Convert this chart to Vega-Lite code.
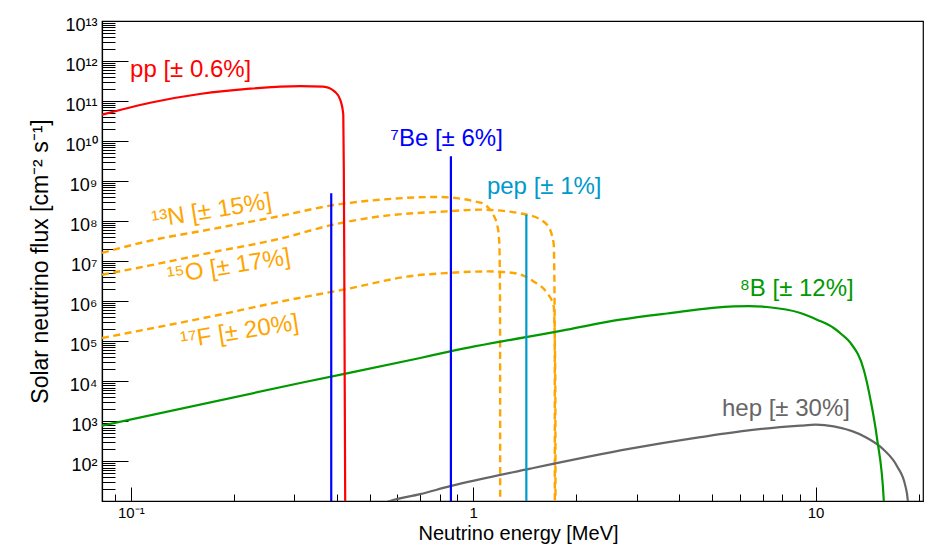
{
  "$schema": "https://vega.github.io/schema/vega-lite/v6.json",
  "description": "Solar neutrino energy spectrum (pp chain and CNO cycle) with flux uncertainties.",
  "width": 821,
  "height": 480,
  "autosize": {"type": "none"},
  "padding": {"left": 102, "top": 21, "right": 5, "bottom": 48},
  "config": {
    "font": "Liberation Sans",
    "view": {"stroke": "#000000", "strokeWidth": 1.2},
    "axis": {
      "grid": false,
      "domainColor": "#000000",
      "domainWidth": 1.2,
      "tickColor": "#000000",
      "tickWidth": 1,
      "labelColor": "#000000",
      "titleColor": "#000000",
      "titleFontWeight": "normal",
      "labelOverlap": false,
      "labelFlush": false
    }
  },
  "datasets": {
    "curves": [
      {"series": "hep", "id": "hep", "E": 0.54, "F": 8.6},
      {"series": "hep", "id": "hep", "E": 0.566, "F": 10},
      {"series": "hep", "id": "hep", "E": 0.7, "F": 15.2},
      {"series": "hep", "id": "hep", "E": 0.857, "F": 24.1},
      {"series": "hep", "id": "hep", "E": 1.469, "F": 65.9},
      {"series": "hep", "id": "hep", "E": 2.878, "F": 208},
      {"series": "hep", "id": "hep", "E": 4.61, "F": 403},
      {"series": "hep", "id": "hep", "E": 6.45, "F": 603},
      {"series": "hep", "id": "hep", "E": 9.03, "F": 781},
      {"series": "hep", "id": "hep", "E": 10.0, "F": 828},
      {"series": "hep", "id": "hep", "E": 11.3, "F": 750},
      {"series": "hep", "id": "hep", "E": 14.15, "F": 385},
      {"series": "hep", "id": "hep", "E": 15.82, "F": 196},
      {"series": "hep", "id": "hep", "E": 17.32, "F": 75},
      {"series": "hep", "id": "hep", "E": 18.31, "F": 23.8},
      {"series": "hep", "id": "hep", "E": 18.6, "F": 10.4},
      {"series": "hep", "id": "hep", "E": 18.75, "F": 1},

      {"series": "8B", "id": "8B", "E": 0.0824, "F": 780},
      {"series": "8B", "id": "8B", "E": 0.3125, "F": 9100},
      {"series": "8B", "id": "8B", "E": 0.7004, "F": 38300},
      {"series": "8B", "id": "8B", "E": 0.857, "F": 56000},
      {"series": "8B", "id": "8B", "E": 1.88, "F": 195000},
      {"series": "8B", "id": "8B", "E": 2.69, "F": 347000},
      {"series": "8B", "id": "8B", "E": 3.684, "F": 495000},
      {"series": "8B", "id": "8B", "E": 5.77, "F": 745000},
      {"series": "8B", "id": "8B", "E": 6.4, "F": 760000},
      {"series": "8B", "id": "8B", "E": 7.22, "F": 720000},
      {"series": "8B", "id": "8B", "E": 9.03, "F": 510000},
      {"series": "8B", "id": "8B", "E": 10.1, "F": 347000},
      {"series": "8B", "id": "8B", "E": 11.3, "F": 215000},
      {"series": "8B", "id": "8B", "E": 11.96, "F": 146000},
      {"series": "8B", "id": "8B", "E": 12.65, "F": 91000},
      {"series": "8B", "id": "8B", "E": 13.83, "F": 19500},
      {"series": "8B", "id": "8B", "E": 14.47, "F": 3500},
      {"series": "8B", "id": "8B", "E": 15.14, "F": 349},
      {"series": "8B", "id": "8B", "E": 15.82, "F": 11},
      {"series": "8B", "id": "8B", "E": 16.0, "F": 1},

      {"series": "pp", "id": "pp", "E": 0.0824, "F": 4.57e10},
      {"series": "pp", "id": "pp", "E": 0.1139, "F": 9.1e10},
      {"series": "pp", "id": "pp", "E": 0.159, "F": 1.5e11},
      {"series": "pp", "id": "pp", "E": 0.2233, "F": 2.04e11},
      {"series": "pp", "id": "pp", "E": 0.3125, "F": 2.35e11},
      {"series": "pp", "id": "pp", "E": 0.3648, "F": 2.3e11},
      {"series": "pp", "id": "pp", "E": 0.395, "F": 1.7e11},
      {"series": "pp", "id": "pp", "E": 0.409, "F": 1.08e11},
      {"series": "pp", "id": "pp", "E": 0.4175, "F": 4.6e10},
      {"series": "pp", "id": "pp", "E": 0.419, "F": 2e9},
      {"series": "pp", "id": "pp", "E": 0.4201, "F": 2e7},
      {"series": "pp", "id": "pp", "E": 0.4215, "F": 1e4},
      {"series": "pp", "id": "pp", "E": 0.4229, "F": 10},
      {"series": "pp", "id": "pp", "E": 0.4232, "F": 1},

      {"series": "7Be", "id": "7Be-384", "E": 0.385, "F": 5.0e8},
      {"series": "7Be", "id": "7Be-384", "E": 0.385, "F": 1},
      {"series": "7Be", "id": "7Be-862", "E": 0.861, "F": 4.2e9},
      {"series": "7Be", "id": "7Be-862", "E": 0.861, "F": 1},

      {"series": "pep", "id": "pep", "E": 1.43, "F": 1.45e8},
      {"series": "pep", "id": "pep", "E": 1.43, "F": 1},

      {"series": "13N", "id": "13N", "E": 0.0824, "F": 1.61e7},
      {"series": "13N", "id": "13N", "E": 0.1139, "F": 3.26e7},
      {"series": "13N", "id": "13N", "E": 0.1705, "F": 6.24e7},
      {"series": "13N", "id": "13N", "E": 0.2731, "F": 1.35e8},
      {"series": "13N", "id": "13N", "E": 0.39, "F": 2.51e8},
      {"series": "13N", "id": "13N", "E": 0.5353, "F": 3.44e8},
      {"series": "13N", "id": "13N", "E": 0.7855, "F": 4.02e8},
      {"series": "13N", "id": "13N", "E": 1.049, "F": 2.9e8},
      {"series": "13N", "id": "13N", "E": 1.135, "F": 1.63e8},
      {"series": "13N", "id": "13N", "E": 1.178, "F": 7.4e7},
      {"series": "13N", "id": "13N", "E": 1.192, "F": 2.9e7},
      {"series": "13N", "id": "13N", "E": 1.196, "F": 7e6},
      {"series": "13N", "id": "13N", "E": 1.1985, "F": 3e5},
      {"series": "13N", "id": "13N", "E": 1.1995, "F": 1},

      {"series": "15O", "id": "15O", "E": 0.0824, "F": 4.61e6},
      {"series": "15O", "id": "15O", "E": 0.1139, "F": 7.87e6},
      {"series": "15O", "id": "15O", "E": 0.1705, "F": 1.63e7},
      {"series": "15O", "id": "15O", "E": 0.2731, "F": 3.66e7},
      {"series": "15O", "id": "15O", "E": 0.39, "F": 8.18e7},
      {"series": "15O", "id": "15O", "E": 0.5353, "F": 1.32e8},
      {"series": "15O", "id": "15O", "E": 0.8383, "F": 1.76e8},
      {"series": "15O", "id": "15O", "E": 1.049, "F": 1.94e8},
      {"series": "15O", "id": "15O", "E": 1.436, "F": 1.45e8},
      {"series": "15O", "id": "15O", "E": 1.643, "F": 8.2e7},
      {"series": "15O", "id": "15O", "E": 1.718, "F": 2.85e7},
      {"series": "15O", "id": "15O", "E": 1.727, "F": 3e6},
      {"series": "15O", "id": "15O", "E": 1.731, "F": 1e5},
      {"series": "15O", "id": "15O", "E": 1.732, "F": 1},

      {"series": "17F", "id": "17F", "E": 0.0824, "F": 1.21e5},
      {"series": "17F", "id": "17F", "E": 0.1139, "F": 2.07e5},
      {"series": "17F", "id": "17F", "E": 0.1705, "F": 4.12e5},
      {"series": "17F", "id": "17F", "E": 0.2731, "F": 9.75e5},
      {"series": "17F", "id": "17F", "E": 0.4278, "F": 2.03e6},
      {"series": "17F", "id": "17F", "E": 0.6694, "F": 4.35e6},
      {"series": "17F", "id": "17F", "E": 0.8383, "F": 5.08e6},
      {"series": "17F", "id": "17F", "E": 1.097, "F": 5.57e6},
      {"series": "17F", "id": "17F", "E": 1.313, "F": 5.08e6},
      {"series": "17F", "id": "17F", "E": 1.501, "F": 3.13e6},
      {"series": "17F", "id": "17F", "E": 1.643, "F": 1.61e6},
      {"series": "17F", "id": "17F", "E": 1.718, "F": 7.7e5},
      {"series": "17F", "id": "17F", "E": 1.732, "F": 1e5},
      {"series": "17F", "id": "17F", "E": 1.738, "F": 5e3},
      {"series": "17F", "id": "17F", "E": 1.74, "F": 1}
    ],
    "labels": [
      {"series": "pp", "E": 0.0995, "F": 3.99e11, "text": "pp [± 0.6%]"},
      {"series": "7Be", "E": 0.5725, "F": 7.7e9, "text": "⁷Be [± 6%]"},
      {"series": "pep", "E": 1.097, "F": 4.86e8, "text": "pep [± 1%]"},
      {"series": "8B", "E": 6.004, "F": 1.32e6, "text": "⁸B [± 12%]"},
      {"series": "hep", "E": 5.33, "F": 1330, "text": "hep [± 30%]"},
      {"series": "13N", "E": 0.1161, "F": 7.0e7, "text": "¹³N [± 15%]"},
      {"series": "15O", "E": 0.1288, "F": 2.78e6, "text": "¹⁵O [± 17%]"},
      {"series": "17F", "E": 0.141, "F": 6.7e4, "text": "¹⁷F [± 20%]"}
    ]
  },
  "encoding": {
    "x": {
      "field": "E",
      "type": "quantitative",
      "scale": {"type": "log", "domain": [0.0824, 20.6], "nice": false, "zero": false},
      "axis": {
        "title": "Neutrino energy [MeV]",
        "titleFontSize": 20,
        "titleBaseline": "alphabetic",
        "titleAlign": "center",
        "titleX": 416,
        "titleY": 38,
        "labelFontSize": 15,
        "labelBaseline": "top",
        "labelPadding": 18,
        "values": [0.09, 0.1, 0.2, 0.3, 0.4, 0.5, 0.6, 0.7, 0.8, 0.9, 1, 2, 3, 4, 5, 6, 7, 8, 9, 10, 20],
        "labelExpr": "datum.value == 0.1 ? '10⁻¹' : datum.value == 1 ? '1' : datum.value == 10 ? '10' : ''",
        "tickSize": {"condition": {"test": "datum.value == 0.1 || datum.value == 1 || datum.value == 10", "value": -14}, "value": -7}
      }
    },
    "y": {
      "field": "F",
      "type": "quantitative",
      "scale": {"type": "log", "domain": [10.26, 1e13], "nice": false, "zero": false},
      "axis": {
        "title": "Solar neutrino flux [cm⁻² s⁻¹]",
        "titleFontSize": 23,
        "titleAngle": 270,
        "titleAlign": "center",
        "titleBaseline": "alphabetic",
        "titleX": -55,
        "titleY": 240,
        "labelFontSize": 18,
        "labelPadding": 31,
        "labelOffset": 4,
        "values": [2e1, 3e1, 4e1, 5e1, 6e1, 7e1, 8e1, 9e1,
                   1e2, 2e2, 3e2, 4e2, 5e2, 6e2, 7e2, 8e2, 9e2,
                   1e3, 2e3, 3e3, 4e3, 5e3, 6e3, 7e3, 8e3, 9e3,
                   1e4, 2e4, 3e4, 4e4, 5e4, 6e4, 7e4, 8e4, 9e4,
                   1e5, 2e5, 3e5, 4e5, 5e5, 6e5, 7e5, 8e5, 9e5,
                   1e6, 2e6, 3e6, 4e6, 5e6, 6e6, 7e6, 8e6, 9e6,
                   1e7, 2e7, 3e7, 4e7, 5e7, 6e7, 7e7, 8e7, 9e7,
                   1e8, 2e8, 3e8, 4e8, 5e8, 6e8, 7e8, 8e8, 9e8,
                   1e9, 2e9, 3e9, 4e9, 5e9, 6e9, 7e9, 8e9, 9e9,
                   1e10, 2e10, 3e10, 4e10, 5e10, 6e10, 7e10, 8e10, 9e10,
                   1e11, 2e11, 3e11, 4e11, 5e11, 6e11, 7e11, 8e11, 9e11,
                   1e12, 2e12, 3e12, 4e12, 5e12, 6e12, 7e12, 8e12, 9e12,
                   1e13],
        "labelExpr": "abs(log(datum.value) / LN10 - round(log(datum.value) / LN10)) < 0.0001 ? '10' + (round(log(datum.value) / LN10) >= 10 ? '¹' : '') + ['⁰', '¹', '²', '³', '⁴', '⁵', '⁶', '⁷', '⁸', '⁹'][round(log(datum.value) / LN10) % 10] : ''",
        "tickSize": {"condition": {"test": "abs(log(datum.value) / LN10 - round(log(datum.value) / LN10)) < 0.0001", "value": -26}, "value": -13}
      }
    },
    "color": {
      "field": "series",
      "type": "nominal",
      "legend": null,
      "scale": {
        "domain": ["pp", "7Be", "pep", "13N", "15O", "17F", "8B", "hep"],
        "range": ["#ff0000", "#0000ff", "#0099cc", "#ffa500", "#ffa500", "#ffa500", "#009900", "#666666"]
      }
    }
  },
  "layer": [
    {
      "data": {"name": "curves"},
      "transform": [{"filter": "indexof(['13N', '15O', '17F'], datum.series) >= 0"}],
      "mark": {"type": "line", "clip": true, "strokeWidth": 2.4, "strokeDash": [7, 4.5], "interpolate": "monotone"},
      "encoding": {"detail": {"field": "id"}}
    },
    {
      "data": {"name": "curves"},
      "transform": [{"filter": "indexof(['hep', '8B', 'pp'], datum.series) >= 0"}],
      "mark": {"type": "line", "clip": true, "strokeWidth": 2.2, "interpolate": "monotone"},
      "encoding": {"detail": {"field": "id"}}
    },
    {
      "data": {"name": "curves"},
      "transform": [{"filter": "indexof(['7Be', 'pep'], datum.series) >= 0"}],
      "mark": {"type": "line", "clip": true, "strokeWidth": 2.2},
      "encoding": {"detail": {"field": "id"}}
    },
    {
      "data": {"name": "labels"},
      "transform": [{"filter": "indexof(['13N', '15O', '17F'], datum.series) < 0"}],
      "mark": {"type": "text", "align": "left", "baseline": "alphabetic", "fontSize": 24},
      "encoding": {"text": {"field": "text"}}
    },
    {
      "data": {"name": "labels"},
      "transform": [{"filter": "indexof(['13N', '15O', '17F'], datum.series) >= 0"}],
      "mark": {"type": "text", "align": "left", "baseline": "alphabetic", "fontSize": 24, "angle": 351},
      "encoding": {"text": {"field": "text"}}
    }
  ]
}
